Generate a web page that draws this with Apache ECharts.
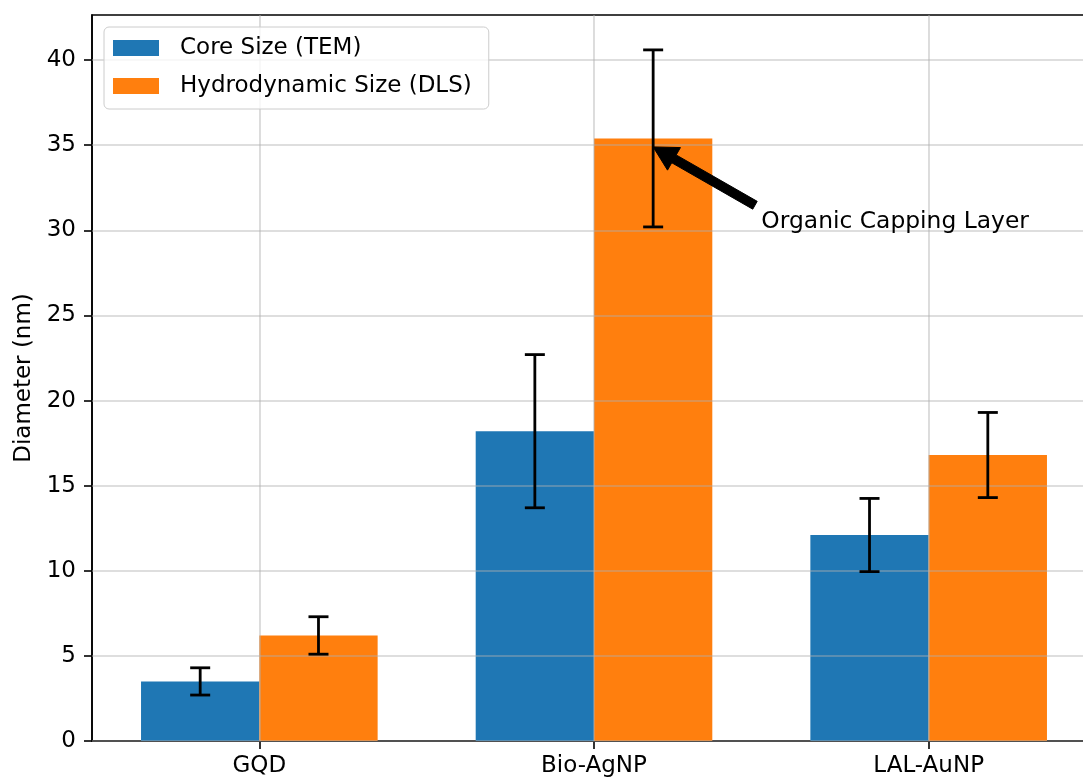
<!DOCTYPE html>
<html>
<head>
<meta charset="utf-8">
<script src="https://cdn.jsdelivr.net/npm/echarts@6/dist/echarts.min.js"></script>
<style>
html,body{margin:0;padding:0;background:#fff;overflow:hidden;}
#chart{width:1096px;height:778px;}
</style>
</head>
<body>
<div id="chart"></div>
<script>
// ---- data ----
const categories = ['GQD', 'Bio-AgNP', 'LAL-AuNP'];
const coreSize = [3.5, 18.2, 12.1];
const coreErr = [0.8, 4.5, 2.15];
const hydroSize = [6.2, 35.4, 16.8];
const hydroErr = [1.1, 5.2, 2.5];
const yTicks = [0, 5, 10, 15, 20, 25, 30, 35, 40];
const yMax = 42.65;
const annotationText = 'Organic Capping Layer';
const annotationTip = [1, 34.9];      // category index, value (tip on orange bar)
const annotationTextPos = [1.5, 30];  // category units, value (text left / baseline)

// ---- styling constants ----
const FONT = 'DejaVu Sans';
const FS = 23;
const BAR_FRAC = 0.3535;
const BLUE = '#1f77b4';
const ORANGE = '#ff7f0e';
const GRIDC = 'rgba(176,176,176,0.55)';

const chart = echarts.init(document.getElementById('chart'), null, {renderer: 'canvas'});

function errRender(side) {
  return function (params, api) {
    const i = api.value(0), v = api.value(1), e = api.value(2);
    const band = api.size([1, 0])[0];
    const bw = band * BAR_FRAC;
    const cx = api.coord([i, v])[0] + side * bw / 2;
    const yt = api.coord([i, v + e])[1];
    const yb = api.coord([i, v - e])[1];
    const cap = 10;
    const st = {stroke: '#000', lineWidth: 2.8};
    return {
      type: 'group',
      children: [
        {type: 'line', shape: {x1: cx, y1: yt, x2: cx, y2: yb}, style: st},
        {type: 'line', shape: {x1: cx - cap, y1: yt, x2: cx + cap, y2: yt}, style: st},
        {type: 'line', shape: {x1: cx - cap, y1: yb, x2: cx + cap, y2: yb}, style: st}
      ]
    };
  };
}

function arrowRender(params, api) {
  const band = api.size([1, 0])[0];
  const bw = band * BAR_FRAC;
  const tip = api.coord([annotationTip[0], annotationTip[1]]);
  tip[0] += bw / 2;
  const tBase = Math.floor(annotationTextPos[0]);
  const tp = api.coord([tBase, annotationTextPos[1]]);
  tp[0] += (annotationTextPos[0] - tBase) * band;
  const corner = [tp[0] - 1, tp[1] - 22];
  const dx0 = tip[0] - corner[0], dy0 = tip[1] - corner[1];
  const tail = [corner[0] + 0.05 * dx0, corner[1] + 0.05 * dy0];
  const dx = tip[0] - tail[0], dy = tip[1] - tail[1];
  const L = Math.sqrt(dx * dx + dy * dy);
  const ux = dx / L, uy = dy / L;
  const nx = -uy, ny = ux;
  const w = 9, hw = 26, hl = 24;
  const hx = tip[0] - ux * hl, hy = tip[1] - uy * hl;
  const pts = [
    [tail[0] + nx * w / 2, tail[1] + ny * w / 2],
    [hx + nx * w / 2, hy + ny * w / 2],
    [hx + nx * hw / 2, hy + ny * hw / 2],
    [tip[0], tip[1]],
    [hx - nx * hw / 2, hy - ny * hw / 2],
    [hx - nx * w / 2, hy - ny * w / 2],
    [tail[0] - nx * w / 2, tail[1] - ny * w / 2]
  ];
  return {
    type: 'group',
    children: [
      {type: 'polygon', shape: {points: pts}, style: {fill: '#000', stroke: '#000', lineWidth: 1}},
      {type: 'text', x: tp[0], y: tp[1] - 8,
        style: {text: annotationText, fill: '#000', font: '23.4px "' + FONT + '"',
          textAlign: 'left', textVerticalAlign: 'middle'}}
    ]
  };
}

const option = {
  animation: false,
  textStyle: {fontFamily: FONT},
  grid: {left: 92, right: 0, top: 15, bottom: 37, show: true, borderColor: '#000', borderWidth: 1.6, backgroundColor: 'transparent'},
  legend: {
    orient: 'vertical', left: 104, top: 27, z: 20,
    itemWidth: 46, itemHeight: 16, itemGap: 12,
    padding: [8, 17, 10, 9],
    backgroundColor: 'rgba(255,255,255,0.8)', borderColor: '#cccccc', borderWidth: 1, borderRadius: 5,
    textStyle: {fontSize: FS, fontFamily: FONT, color: '#000', lineHeight: 26, padding: [0, 0, 0, 16]},
    icon: 'rect',
    data: ['Core Size (TEM)', 'Hydrodynamic Size (DLS)']
  },
  xAxis: {
    type: 'category', data: categories, boundaryGap: true,
    axisLine: {show: true, lineStyle: {color: '#000', width: 1.6}},
    axisTick: {show: true, alignWithLabel: true, length: 8, lineStyle: {color: '#000', width: 1.6}},
    axisLabel: {fontSize: FS, color: '#000', margin: 14, fontFamily: FONT},
    splitLine: {show: false}
  },
  yAxis: {
    type: 'value', min: 0, max: yMax, interval: 5,
    name: 'Diameter (nm)', nameLocation: 'middle', nameGap: 49,
    nameTextStyle: {fontSize: FS, color: '#000', fontFamily: FONT},
    axisLine: {show: true, lineStyle: {color: '#000', width: 1.6}},
    axisTick: {show: true, length: 8, lineStyle: {color: '#000', width: 1.6}, customValues: yTicks},
    axisLabel: {fontSize: FS, color: '#000', margin: 16, fontFamily: FONT, customValues: yTicks},
    splitLine: {show: false}
  },
  series: [
    {
      name: 'Core Size (TEM)', type: 'bar', data: coreSize, barWidth: (BAR_FRAC * 100) + '%', barGap: '0%',
      itemStyle: {color: BLUE}
    },
    {
      name: 'Hydrodynamic Size (DLS)', type: 'bar', data: hydroSize, barWidth: (BAR_FRAC * 100) + '%', barGap: '0%',
      itemStyle: {color: ORANGE}
    },
    {
      type: 'custom', name: 'errCore', z: 8, renderItem: errRender(-1),
      data: categories.map((c, i) => [i, coreSize[i], coreErr[i]]),
      markLine: {
        silent: true, symbol: ['none', 'none'], label: {show: false}, z: 5,
        lineStyle: {color: GRIDC, width: 1.6, type: 'solid'},
        data: yTicks.map(t => ({yAxis: t})).concat(categories.map(c => ({xAxis: c})))
      }
    },
    {
      type: 'custom', name: 'errHydro', z: 8, renderItem: errRender(1),
      data: categories.map((c, i) => [i, hydroSize[i], hydroErr[i]])
    },
    {
      type: 'custom', name: 'annotation', z: 9, renderItem: arrowRender,
      data: [[annotationTextPos[0], annotationTextPos[1]]]
    }
  ]
};
chart.setOption(option);
</script>
</body>
</html>
